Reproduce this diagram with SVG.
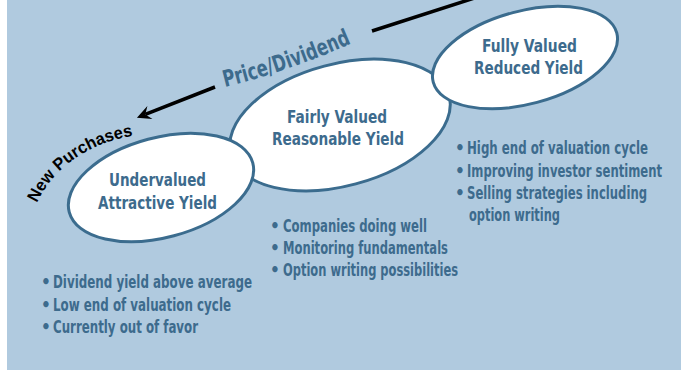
<svg xmlns="http://www.w3.org/2000/svg" xmlns:xlink="http://www.w3.org/1999/xlink" width="681" height="370" viewBox="0 0 681 370">
<style>
.node{fill:#ffffff;stroke:#3b6c8e;stroke-width:3}
.t{font-family:"Liberation Sans Narrow","DejaVu Sans Condensed","Liberation Sans",sans-serif;font-weight:bold;fill:#3d6b8d}
.title{font-size:18px;text-anchor:middle}
.body{font-size:17px}
.conn{stroke:#000;stroke-width:3.5;fill:none}
</style>
<defs>
<marker id="ah" markerUnits="userSpaceOnUse" markerWidth="30" markerHeight="30" refX="15" refY="15" orient="auto" overflow="visible">
<path d="M24,15 L10,8 L15,15 L10,22 Z" fill="#000"/>
</marker>
<path id="npPath" d="M37,203 C53,168 89,143 132,136"/>
<path id="pdPath" d="M225,87 Q290,71 357,41"/>
</defs>
<rect x="0" y="0" width="681" height="370" fill="#ffffff"/>
<rect x="7" y="0" width="674" height="370" fill="#b0cadf"/>
<g id="connectors">
<path class="conn" d="M490,-7 L372,31"/>
<path class="conn" d="M215,87 L145.3,114.4" marker-end="url(#ah)"/>
<text class="t" font-size="23" textLength="134" lengthAdjust="spacingAndGlyphs"><textPath xlink:href="#pdPath" href="#pdPath">Price/Dividend</textPath></text>
<text font-family="'Liberation Sans',Arial,sans-serif" font-weight="bold" font-size="17" fill="#000" textLength="122" lengthAdjust="spacingAndGlyphs"><textPath xlink:href="#npPath" href="#npPath">New Purchases</textPath></text>
</g>
<g id="fairly">
<ellipse class="node" cx="340" cy="125" rx="113" ry="61" transform="rotate(-15 340 125)"/>
<text class="t title" x="337" y="123" textLength="100" lengthAdjust="spacingAndGlyphs">Fairly Valued</text>
<text class="t title" x="338" y="145" textLength="132" lengthAdjust="spacingAndGlyphs">Reasonable Yield</text>
</g>
<g id="undervalued">
<ellipse class="node" cx="161" cy="187.5" rx="95" ry="50" transform="rotate(-15 161 187.5)"/>
<text class="t title" x="157.5" y="186" textLength="97" lengthAdjust="spacingAndGlyphs">Undervalued</text>
<text class="t title" x="157.5" y="209" textLength="119" lengthAdjust="spacingAndGlyphs">Attractive Yield</text>
</g>
<g id="fully">
<ellipse class="node" cx="525" cy="57.5" rx="95" ry="46.5" transform="rotate(-15 525 57.5)"/>
<text class="t title" x="529.5" y="52" textLength="95" lengthAdjust="spacingAndGlyphs">Fully Valued</text>
<text class="t title" x="528.5" y="74" textLength="109" lengthAdjust="spacingAndGlyphs">Reduced Yield</text>
</g>
<g id="bullets-undervalued">
<text class="t body" x="41" y="288"><tspan>•</tspan><tspan x="53" textLength="199" lengthAdjust="spacingAndGlyphs">Dividend yield above average</tspan></text>
<text class="t body" x="41" y="311"><tspan>•</tspan><tspan x="53" textLength="178" lengthAdjust="spacingAndGlyphs">Low end of valuation cycle</tspan></text>
<text class="t body" x="41" y="333"><tspan>•</tspan><tspan x="53" textLength="145" lengthAdjust="spacingAndGlyphs">Currently out of favor</tspan></text>
</g>
<g id="bullets-fairly">
<text class="t body" x="270" y="232"><tspan>•</tspan><tspan x="283" textLength="144" lengthAdjust="spacingAndGlyphs">Companies doing well</tspan></text>
<text class="t body" x="270" y="254"><tspan>•</tspan><tspan x="283" textLength="165" lengthAdjust="spacingAndGlyphs">Monitoring fundamentals</tspan></text>
<text class="t body" x="270" y="276"><tspan>•</tspan><tspan x="283" textLength="175" lengthAdjust="spacingAndGlyphs">Option writing possibilities</tspan></text>
</g>
<g id="bullets-fully">
<text class="t body" x="455" y="154"><tspan>•</tspan><tspan x="467" textLength="181" lengthAdjust="spacingAndGlyphs">High end of valuation cycle</tspan></text>
<text class="t body" x="455" y="177"><tspan>•</tspan><tspan x="467" textLength="195" lengthAdjust="spacingAndGlyphs">Improving investor sentiment</tspan></text>
<text class="t body" x="455" y="199"><tspan>•</tspan><tspan x="467" textLength="180" lengthAdjust="spacingAndGlyphs">Selling strategies including</tspan></text>
<text class="t body" x="469" y="221" textLength="91" lengthAdjust="spacingAndGlyphs">option writing</text>
</g>
</svg>
